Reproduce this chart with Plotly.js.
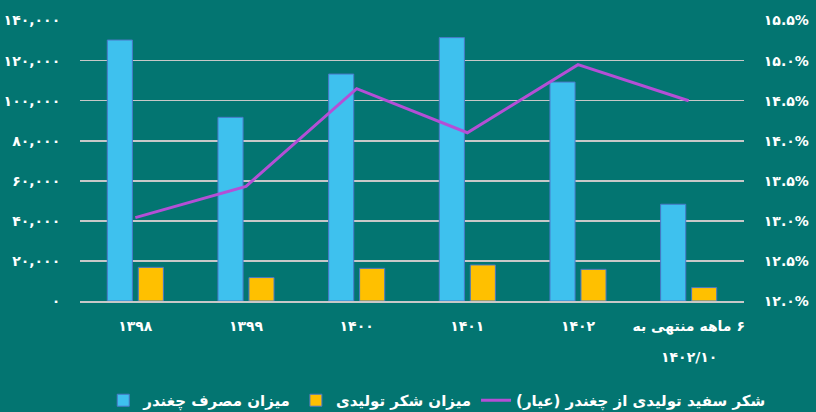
<!DOCTYPE html>
<html>
<head>
<meta charset="utf-8">
<script src="https://cdn.plot.ly/plotly-3.0.1.min.js"></script>
<style>
html,body{margin:0;padding:0;background:#037571;}
#chart{width:816px;height:412px;}
</style>
</head>
<body>
<div id="chart"></div>
<script>
// Data
const categories = ['۱۳۹۸', '۱۳۹۹', '۱۴۰۰', '۱۴۰۱', '۱۴۰۲', '\u200F۶ ماهه منتهی به<br>۱۴۰۲/۱۰'];
const beetConsumption = [130300, 91700, 113300, 131500, 109300, 48300];
const sugarProduced = [16800, 11700, 16300, 18000, 15800, 6700];
const sugarPurity = [13.04, 13.43, 14.65, 14.10, 14.95, 14.50];

const seriesNames = ['میزان مصرف چغندر', 'میزان شکر تولیدی', 'شکر سفید تولیدی از چغندر (عیار)'];

const leftTickVals = [0, 20000, 40000, 60000, 80000, 100000, 120000, 140000];
const leftTickText = ['۰', '۲۰,۰۰۰', '۴۰,۰۰۰', '۶۰,۰۰۰', '۸۰,۰۰۰', '۱۰۰,۰۰۰', '۱۲۰,۰۰۰', '۱۴۰,۰۰۰'];
const rightTickVals = [12, 12.5, 13, 13.5, 14, 14.5, 15, 15.5];
const rightTickText = ['۱۲.۰%', '۱۲.۵%', '۱۳.۰%', '۱۳.۵%', '۱۴.۰%', '۱۴.۵%', '۱۵.۰%', '۱۵.۵%'];

const FONT = 'DejaVu Sans, Noto Sans, sans-serif';
const firstLines = categories.map(c => c.split('<br>')[0]);
const extraLines = categories.map(c => c.split('<br>')[1] || null);

// small headroom so the top gridline (140,000 / 15.5%) is drawn inside the plot
const headroom = 1.0021;

const traces = [
  {
    type: 'bar', name: seriesNames[0], x: categories, y: beetConsumption,
    marker: {color: '#3ec1ee', line: {color: '#4a78c8', width: 1}},
    hoverinfo: 'skip'
  },
  {
    type: 'bar', name: seriesNames[1], x: categories, y: sugarProduced,
    marker: {color: '#ffc000', line: {color: '#4a78c8', width: 1}},
    hoverinfo: 'skip'
  },
  {
    type: 'scatter', mode: 'lines', name: seriesNames[2], x: categories, y: sugarPurity,
    yaxis: 'y2', line: {color: '#b44fd6', width: 3},
    hoverinfo: 'skip'
  }
];

const annotations = [];
extraLines.forEach((t, i) => {
  if (t) annotations.push({
    x: categories[i], xref: 'x', y: -0.2, yref: 'paper', yanchor: 'middle',
    text: t, showarrow: false,
    font: {family: FONT, size: 14, color: '#ffffff', weight: 'bold'}
  });
});

const leftMax = leftTickVals[leftTickVals.length - 1];
const rMin = rightTickVals[0], rMax = rightTickVals[rightTickVals.length - 1];

const layout = {
  width: 816, height: 412,
  paper_bgcolor: '#037571', plot_bgcolor: '#037571',
  margin: {l: 80, r: 72, t: 20, b: 111},
  barmode: 'group', bargap: 0.44, bargroupgap: 0.19,
  showlegend: true,
  legend: {
    orientation: 'h', x: 0.035, xanchor: 'left', yref: 'container', y: 0.068, yanchor: 'top',
    font: {family: FONT, size: 15, color: '#ffffff', weight: 'bold'},
    bgcolor: 'rgba(0,0,0,0)', traceorder: 'normal'
  },
  xaxis: {
    type: 'category', tickmode: 'array', tickvals: categories, ticktext: firstLines,
    showgrid: false, zeroline: false, showline: true, linecolor: '#c8c8c8', linewidth: 1.5,
    ticks: 'outside', ticklen: 12, tickcolor: 'rgba(0,0,0,0)',
    tickfont: {family: FONT, size: 14, color: '#ffffff', weight: 'bold'}
  },
  yaxis: {
    range: [0, leftMax * headroom], tickmode: 'array', tickvals: leftTickVals, ticktext: leftTickText,
    showgrid: true, gridcolor: '#c8c8c8', gridwidth: 1.5, zeroline: false, showline: false,
    ticks: 'outside', ticklen: 16, tickcolor: 'rgba(0,0,0,0)',
    tickfont: {family: FONT, size: 14, color: '#ffffff', weight: 'bold'}
  },
  yaxis2: {
    range: [rMin, rMin + (rMax - rMin) * headroom], overlaying: 'y', side: 'right', tickmode: 'array',
    tickvals: rightTickVals, ticktext: rightTickText,
    showgrid: false, zeroline: false, showline: false,
    ticks: 'outside', ticklen: 16, tickcolor: 'rgba(0,0,0,0)',
    tickfont: {family: FONT, size: 14, color: '#ffffff', weight: 'bold'}
  },
  annotations: annotations
};

Plotly.newPlot('chart', traces, layout, {displayModeBar: false, staticPlot: true});
</script>
</body>
</html>
